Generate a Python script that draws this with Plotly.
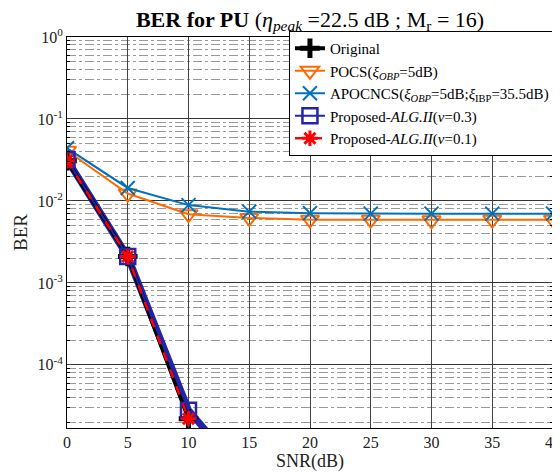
import plotly.graph_objects as go

snr = [0, 5, 10, 15, 20, 25, 30, 35, 40]
ber_pocs = [0.041, 0.0123, 0.0069, 0.0062, 0.0059, 0.0059, 0.0058, 0.0059, 0.0059]
ber_apocncs = [0.044, 0.0144, 0.0089, 0.0074, 0.0071, 0.0070, 0.0070, 0.0070, 0.0070]
snr_prop03 = [0, 5, 10, 15]
ber_prop03 = [0.032, 0.0021, 2.8e-5, 3.7e-6]
snr_orig = [0, 5, 10]
ber_orig = [0.031, 0.0021, 2.2e-5]
snr_prop01 = [0, 5, 10]
ber_prop01 = [0.031, 0.0021, 2.2e-5]

ytick_vals = [1, 0.1, 0.01, 0.001, 0.0001]
ytick_text = ["10<sup>0</sup>", "10<sup>-1</sup>", "10<sup>-2</sup>", "10<sup>-3</sup>", "10<sup>-4</sup>"]

FONT = "Liberation Serif"
orange = "#FF6A00"
lblue = "#0072BD"
dblue = "#2424A8"

# page has an 8px body margin: figure is shifted by 8px
W, H = 552, 464

fig = go.Figure()
fig.add_trace(go.Scatter(x=snr, y=ber_pocs, mode="lines+markers",
    name="POCS(<i>ξ<sub>OBP</sub></i>=5dB)", legendrank=2,
    line=dict(color=orange, width=2),
    marker=dict(symbol="triangle-down-open", size=16, color=orange, line=dict(width=2))))
fig.add_trace(go.Scatter(x=snr, y=ber_apocncs, mode="lines+markers",
    name="APOCNCS(<i>ξ<sub>OBP</sub></i>=5dB;<i>ξ</i><sub>IBP</sub>=35.5dB)", legendrank=3,
    line=dict(color=lblue, width=2),
    marker=dict(symbol="x-thin-open", size=14, color=lblue, line=dict(width=2, color=lblue))))
fig.add_trace(go.Scatter(x=snr_prop03, y=ber_prop03, mode="lines", showlegend=False,
    line=dict(color=dblue, width=7), hoverinfo="skip"))
fig.add_trace(go.Scatter(x=snr_orig, y=ber_orig, mode="lines+markers",
    name="Original", legendrank=1,
    line=dict(color="black", width=4),
    marker=dict(symbol="cross-thin-open", size=14, color="black", line=dict(width=5, color="black"))))
fig.add_trace(go.Scatter(x=snr_prop03, y=ber_prop03, mode="lines+markers",
    name="Proposed-<i>ALG.II</i>(<i>ν</i>=0.3)", legendrank=4,
    line=dict(color=dblue, width=2),
    marker=dict(symbol="square-open", size=15, color=dblue, line=dict(width=2.5, color=dblue))))
fig.add_trace(go.Scatter(x=snr_prop01, y=ber_prop01, mode="lines+markers",
    name="Proposed-<i>ALG.II</i>(<i>ν</i>=0.1)", legendrank=5,
    line=dict(color="red", width=2.5, dash="dash"),
    marker=dict(symbol="asterisk-open", size=13, color="red", line=dict(width=3, color="red"))))

fig.update_layout(
    width=W, height=H,
    margin=dict(l=59, r=7, t=29, b=44, autoexpand=False),
    paper_bgcolor="white", plot_bgcolor="white",
    font=dict(family=FONT, size=16, color="#222"),
    title=dict(text="<b>BER for PU</b> (<i>η<sub>peak</sub></i> =22.5 dB ; M<sub>r</sub> = 16)",
               x=302 / W, xanchor="center", xref="container",
               y=1 - 11 / H, yanchor="middle", yref="container",
               font=dict(family=FONT, size=22, color="black")),
    legend=dict(x=1.004, xanchor="right", y=1 + 6 / 391, yanchor="top",
                bgcolor="white", bordercolor="black", borderwidth=1,
                font=dict(family=FONT, size=15, color="black"),
                tracegroupgap=0, itemwidth=30),
    showlegend=True,
)
fig.update_xaxes(range=[0, 40], tickvals=snr, ticks="inside", ticklen=5,
                 showline=True, linecolor="black", linewidth=1, mirror="ticks",
                 showgrid=True, gridcolor="#444", gridwidth=1, zeroline=False,
                 automargin=False, ticklabeloverflow="allow",
                 title=dict(text="SNR(dB)", font=dict(size=18), standoff=5),
                 tickfont=dict(size=16))
fig.update_yaxes(type="log", range=[-4.77, 0], tickvals=ytick_vals, ticktext=ytick_text,
                 ticks="inside", ticklen=5,
                 showline=True, linecolor="black", linewidth=1, mirror="ticks",
                 showgrid=True, gridcolor="#333", gridwidth=1, zeroline=False,
                 automargin=False,
                 minor=dict(dtick="D1", showgrid=True, gridcolor="#999", griddash="dashdot",
                            ticks="inside", ticklen=3, tickcolor="black"),
                 title=dict(text="BER", font=dict(size=19), standoff=4),
                 tickfont=dict(size=16))

fig.write_html("out.html")
